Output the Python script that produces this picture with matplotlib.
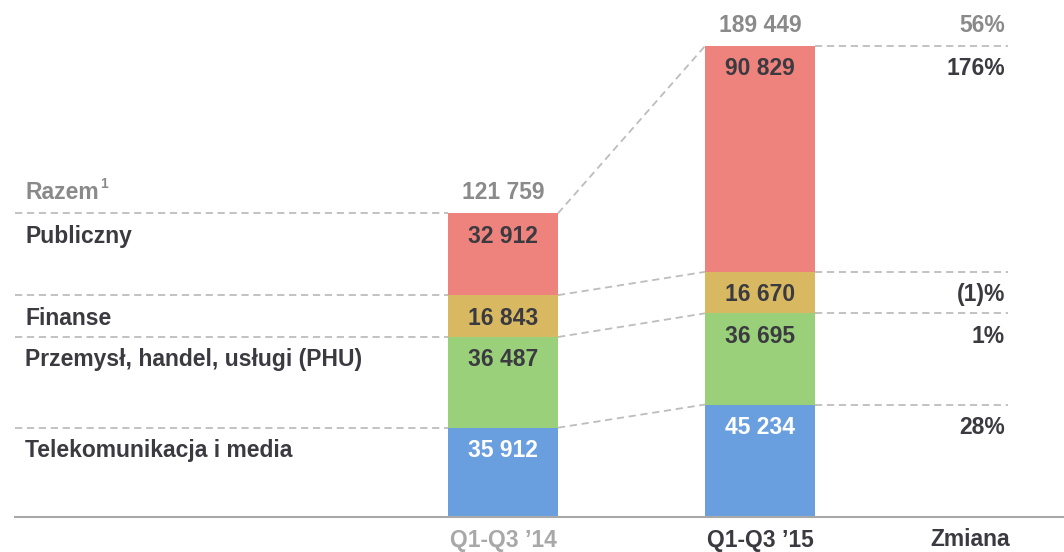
import matplotlib
matplotlib.use("Agg")
import matplotlib.pyplot as plt

plt.rcParams['font.family'] = ['Liberation Sans', 'DejaVu Sans']

# ---- data ----
periods = ["Q1-Q3 \u201914", "Q1-Q3 \u201915"]
segments = ["Telekomunikacja i media", "Przemysł, handel, usługi (PHU)", "Finanse", "Publiczny"]
values_14 = [35912, 36487, 16843, 32912]
values_15 = [45234, 36695, 16670, 90829]
totals = [121759, 189449]
total_label = "Razem"
total_note = "1"
changes = ["28%", "1%", "(1)%", "176%"]
total_change = "56%"
change_header = "Zmiana"

colors = ["#6A9FDF", "#9AD07A", "#D8B961", "#EE837D"]
DARK = "#3A3A40"
GRAY = "#8A8A8A"
LINE = "#BDBDBD"
FS = 16.5

W, H = 1064, 552
fig = plt.figure(figsize=(W / 100, H / 100), dpi=100)
ax = fig.add_axes([0, 0, 1, 1])

# pixel -> data mapping
x0_px, step_px = 503, 257
base_px = 517
scale = 471 / totals[1]  # px per unit


def px_x(p):
    return (p - x0_px) / step_px


def px_y(p):
    return (base_px - p) / scale


ax.set_xlim(px_x(0), px_x(W))
ax.set_ylim(px_y(H), px_y(0))
ax.axis("off")

bw = 110 / step_px
series = [values_14, values_15]
tops = []
for i, vals in enumerate(series):
    bottom = 0
    t = []
    for j, v in enumerate(vals):
        ax.bar(i, v, bottom=bottom, width=bw, color=colors[j], edgecolor="none", zorder=2)
        txtcol = "white" if j == 0 else DARK
        ax.annotate(f"{v:,}".replace(",", " "), (i, bottom + v), xytext=(0, -16.5),
                    textcoords="offset points", ha="center", va="center",
                    fontsize=FS, fontweight="bold", color=txtcol, zorder=3)
        bottom += v
        t.append(bottom)
    tops.append(t)

# Totals above bars
for i in range(2):
    ax.annotate(f"{totals[i]:,}".replace(",", " "), (i, tops[i][-1]), xytext=(0, 15),
                textcoords="offset points", ha="center", va="center",
                fontsize=FS, fontweight="bold", color=GRAY)

dash = dict(color=LINE, lw=1.3, ls=(0, (4, 2.6)), zorder=1)
left_x = px_x(15)
right_x = px_x(1008)
for b14, b15 in zip(tops[0], tops[1]):
    ax.plot([left_x, -bw / 2], [b14, b14], **dash)
    ax.plot([bw / 2, 1 - bw / 2], [b14, b15], **dash)
    ax.plot([1 + bw / 2, right_x], [b15, b15], **dash)

# left category labels
lx = px_x(25)
for j, name in enumerate(segments):
    ax.annotate(name, (lx, tops[0][j]), xytext=(0, -16.5), textcoords="offset points",
                ha="left", va="center", fontsize=FS, fontweight="bold", color=DARK)
ax.annotate(total_label, (lx, tops[0][-1]), xytext=(0, 15), textcoords="offset points",
            ha="left", va="center", fontsize=FS, fontweight="bold", color=GRAY)
ax.annotate(total_note, (px_x(100), tops[0][-1]), xytext=(0, 21), textcoords="offset points",
            ha="left", va="center", fontsize=10, fontweight="bold", color=GRAY)

# right change labels
rx = px_x(1005)
for j, c in enumerate(changes):
    ax.annotate(c, (rx, tops[1][j]), xytext=(0, -16.5), textcoords="offset points",
                ha="right", va="center", fontsize=FS, fontweight="bold", color=DARK)
ax.annotate(total_change, (rx, tops[1][-1]), xytext=(0, 15), textcoords="offset points",
            ha="right", va="center", fontsize=FS, fontweight="bold", color=GRAY)

# baseline
ax.plot([px_x(15), px_x(W)], [0, 0], color="#A8A8A8", lw=1.5, zorder=3)

# x labels
ylab = px_y(540)
ax.text(0, ylab, periods[0], ha="center", va="center", fontsize=FS, fontweight="bold", color="#A8A8A8")
ax.text(1, ylab, periods[1], ha="center", va="center", fontsize=FS, fontweight="bold", color=DARK)
ax.text(px_x(970), ylab, change_header, ha="center", va="center", fontsize=FS, fontweight="bold", color=DARK)

fig.savefig("out.png", dpi=100, facecolor="white")
